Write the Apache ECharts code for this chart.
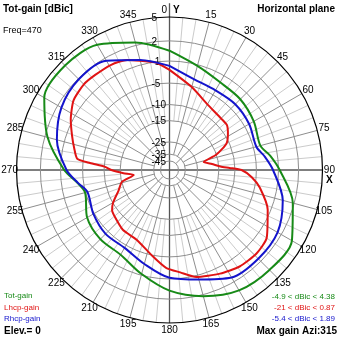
<!DOCTYPE html>
<html>
<head>
<meta charset="utf-8">
<script src="https://cdn.jsdelivr.net/npm/echarts@6/dist/echarts.min.js"></script>
<style>
  html, body { margin: 0; padding: 0; background: #fff; }
  #chart { width: 339px; height: 339px; }
</style>
</head>
<body>
<div id="chart"></div>
<script>
// Azimuth pattern at 470 MHz, elevation 0 deg. Gains in dBic.
const totAngles = [0, 15, 30, 45, 60, 75, 82, 90, 105, 120, 135, 150, 165, 180, 195, 210, 225, 240, 255, 262, 270, 285, 300, 315, 330, 345];
const totGain   = [0.6, -1.2, -2.3, -2.5, -3.0, -3.6, -2.2, -0.8, 1.8, 3.6, 3.6, 3.3, 2.2, 0.8, -1.2, -2.9, -2.9, -3.4, -4.9, -3.8, -1.6, 1.6, 4.0, 4.38, 4.0, 2.4];

const lhcpAngles = [0, 15, 30, 45, 52, 58, 65, 72, 77, 82, 86, 88, 90, 95, 101, 112, 125, 134, 144, 154, 166, 174, 182, 191, 205, 218, 229, 235, 240, 248, 256, 262, 266, 270, 273, 275, 277, 283, 289, 297, 306, 315, 322, 331, 339, 345, 353];
const lhcpGain   = [-2.5, -5.2, -7.4, -8.1, -8.1, -9.1, -10.7, -15.1, -21.0, -17.5, -14.4, -11.5, -8.3, -5.9, -4.0, -1.5, 0.5, 0.8, 0.6, 0.0, -0.8, -2.0, -2.9, -4.8, -7.1, -7.4, -8.3, -8.8, -10.1, -13.1, -15.1, -20.5, -16.2, -12.1, -10.1, -6.5, -3.8, -2.9, -2.0, -0.7, 0.5, 0.87, 0.8, 0.75, 0.4, -0.35, -1.15];

const rhcpAngles = [0, 15, 30, 45, 60, 75, 82, 90, 105, 120, 135, 150, 165, 180, 195, 210, 225, 240, 255, 262, 270, 285, 300, 315, 330, 345];
const rhcpGain   = [-1.8, -3.6, -4.0, -3.8, -4.0, -4.4, -3.2, -1.9, 0.3, 1.4, 1.5, 1.3, -0.3, -1.2, -3.0, -4.4, -4.3, -4.8, -5.4, -3.9, -2.0, 0.2, 1.4, 1.89, 1.6, -0.2];

// Gain rings (dB) and azimuth tick labels
const ringDb = [5, 2, -1, -5, -10, -15, -25, -35, -45];
const azimuthTicks = [0, 15, 30, 45, 60, 75, 90, 105, 120, 135, 150, 165, 180, 195, 210, 225, 240, 255, 270, 285, 300, 315, 330, 345];

// Log-periodic radial scale: each 2 dB below the outer ring shrinks the radius by RING_STEP
const OUTER_DB = 5;
const RING_STEP = 0.893;
const radial = db => Math.pow(RING_STEP, (OUTER_DB - db) / 2);

const FONT = "'Liberation Sans', Arial, sans-serif";
const GREEN = '#178a17', RED = '#e01414', BLUE = '#1414cc';

function patternPoints(angles, gains) {
  const pts = angles.map((a, i) => [radial(gains[i]), a]);
  pts.push([radial(gains[0]), 360]);
  return pts;
}

// Spokes every 5 deg: finer ones start further out from the centre
const spokeData = [];
for (let a = 0; a < 360; a += 5) {
  if (a % 90 === 0) spokeData.push([0, a, a === 0 ? 1.09 : 1, 2]);
  else if (a % 45 === 0) spokeData.push([radial(-45), a, 1, 1]);
  else if (a % 15 === 0) spokeData.push([radial(-35), a, 1, 1]);
  else spokeData.push([radial(-15), a, 1, 0]);
}

const chart = echarts.init(document.getElementById('chart'), null, { renderer: 'canvas' });

chart.setOption({
  animation: false,
  backgroundColor: '#fff',
  polar: { center: [169.5, 170], radius: 153 },
  angleAxis: {
    type: 'value', min: 0, max: 360, startAngle: 90, clockwise: true,
    axisLine: { show: false }, axisTick: { show: false },
    axisLabel: { show: false }, splitLine: { show: false }
  },
  radiusAxis: {
    type: 'value', min: 0, max: 1,
    axisLine: { show: false }, axisTick: { show: false },
    axisLabel: { show: false }, splitLine: { show: false }
  },
  graphic: [
    { type: 'text', left: 3, top: 4, style: { text: 'Tot-gain [dBic]', font: 'bold 10px ' + FONT, fill: '#000' } },
    { type: 'text', left: 3, top: 26, style: { text: 'Freq=470', font: '9px ' + FONT, fill: '#000' } },
    { type: 'text', right: 4, top: 4, style: { text: 'Horizontal plane', font: 'bold 10px ' + FONT, fill: '#000' } },
    { type: 'text', left: 4, top: 292, style: { text: 'Tot-gain', font: '8px ' + FONT, fill: GREEN } },
    { type: 'text', left: 4, top: 304, style: { text: 'Lhcp-gain', font: '8px ' + FONT, fill: RED } },
    { type: 'text', left: 4, top: 315, style: { text: 'Rhcp-gain', font: '8px ' + FONT, fill: BLUE } },
    { type: 'text', left: 4, top: 326, style: { text: 'Elev.= 0', font: 'bold 10px ' + FONT, fill: '#000' } },
    { type: 'text', right: 4, top: 293, style: { text: '-4.9 < dBic < 4.38', font: '8px ' + FONT, fill: GREEN } },
    { type: 'text', right: 4, top: 304, style: { text: '-21 < dBic < 0.87', font: '8px ' + FONT, fill: RED } },
    { type: 'text', right: 4, top: 315, style: { text: '-5.4 < dBic < 1.89', font: '8px ' + FONT, fill: BLUE } },
    { type: 'text', right: 2, top: 326, style: { text: 'Max gain Azi:315', font: 'bold 10px ' + FONT, fill: '#000' } }
  ],
  series: [
    {
      // radial spokes and the main X / Y axes
      type: 'custom', coordinateSystem: 'polar', silent: true, z: 1,
      data: spokeData,
      renderItem: (params, api) => {
        const a = api.value(1);
        const p0 = api.coord([api.value(0), a]);
        const p1 = api.coord([api.value(2), a]);
        const kind = api.value(3);
        const stroke = kind === 2 ? '#555' : kind === 1 ? '#8e8e8e' : '#cbcbcb';
        return {
          type: 'line',
          shape: { x1: p0[0], y1: p0[1], x2: p1[0], y2: p1[1] },
          style: { stroke, lineWidth: kind === 2 ? 1.3 : 1 }
        };
      }
    },
    {
      // gain rings with their dB labels
      type: 'custom', coordinateSystem: 'polar', silent: true, z: 1,
      data: ringDb.map(db => [radial(db), 0, db]),
      renderItem: (params, api) => {
        const c = api.coord([0, 0]);
        const p = api.coord([api.value(0), 0]);
        const db = api.value(2);
        const outer = db === OUTER_DB;
        return {
          type: 'group',
          children: [
            { type: 'circle', shape: { cx: c[0], cy: c[1], r: c[1] - p[1] },
              style: { fill: 'none', stroke: outer ? '#000' : '#8e8e8e', lineWidth: outer ? 1.2 : 1 } },
            { type: 'text', z2: 5, style: { x: c[0] - 18, y: p[1] + 1, text: String(db), align: 'left', verticalAlign: 'middle',
              font: '10px ' + FONT, fill: '#000' } }
          ]
        };
      }
    },
    {
      // azimuth labels around the rim, plus the X / Y axis names
      type: 'custom', coordinateSystem: 'polar', silent: true, z: 1,
      data: azimuthTicks.map(a => [1.045, a]),
      renderItem: (params, api) => {
        const a = api.value(1);
        const p = api.coord([api.value(0), a]);
        const font = '10px ' + FONT;
        if (a === 0) {
          return { type: 'group', children: [
            { type: 'text', style: { x: p[0] - 2.5, y: p[1], text: '0', align: 'right', verticalAlign: 'middle', font, fill: '#000' } },
            { type: 'text', style: { x: p[0] + 3.5, y: p[1], text: 'Y', align: 'left', verticalAlign: 'middle', font: 'bold 10px ' + FONT, fill: '#000' } }
          ] };
        }
        const children = [
          { type: 'text', style: { x: p[0], y: p[1], text: String(a), align: 'center', verticalAlign: 'middle', font, fill: '#000' } }
        ];
        if (a === 90) {
          children.push({ type: 'text', style: { x: p[0], y: p[1] + 10, text: 'X', align: 'center', verticalAlign: 'middle', font: 'bold 10px ' + FONT, fill: '#000' } });
        }
        return { type: 'group', children };
      }
    },
    {
      name: 'Tot-gain', type: 'line', coordinateSystem: 'polar', z: 3,
      data: patternPoints(totAngles, totGain), symbol: 'none', smooth: 0.3,
      lineStyle: { color: GREEN, width: 2 }
    },
    {
      name: 'Lhcp-gain', type: 'line', coordinateSystem: 'polar', z: 4,
      data: patternPoints(lhcpAngles, lhcpGain), symbol: 'none', smooth: 0.2,
      lineStyle: { color: RED, width: 2 }
    },
    {
      name: 'Rhcp-gain', type: 'line', coordinateSystem: 'polar', z: 5,
      data: patternPoints(rhcpAngles, rhcpGain), symbol: 'none', smooth: 0.3,
      lineStyle: { color: BLUE, width: 2 }
    }
  ]
});
</script>
</body>
</html>
